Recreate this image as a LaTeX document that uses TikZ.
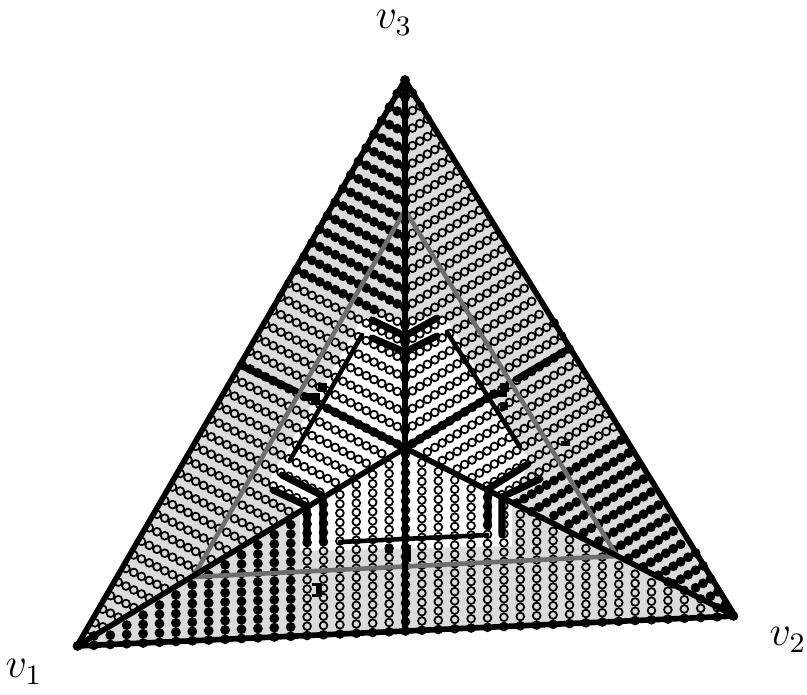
\documentclass[tikz,border=0pt]{standalone}
\begin{document}
\begin{tikzpicture}[x=0.01cm,y=-0.01cm,
  edge/.style={line width=1.6pt, line join=round},
  guide/.style={line width=1.3pt, black!57},
  inner/.style={line width=1.3pt, line cap=round},
  chev/.style={line width=2pt, line cap=round, line join=round},
  hole/.style={line width=0.5pt},
  blot/.style={fill=black},
  lbl/.style={inner sep=0pt, font=\large}]
  \useasboundingbox (0,0) rectangle (807,694);
  \coordinate (v1) at (77,646);
  \coordinate (v2) at (735,616);
  \coordinate (v3) at (405,80);
  \coordinate (c) at (405,448);
  \coordinate (b) at (405,631);
  \coordinate (g1) at (193,577);
  \coordinate (g2) at (617,556);
  \coordinate (g3) at (405,210);
  \coordinate (pl) at (240,365);
  \coordinate (pr) at (570,348);

  % shading
  \fill[black!14] (v1) -- (v2) -- (v3) -- cycle;
  \fill[white] (362,318) -- (446,318) -- (530,460) -- (512,502) -- (512,546)
    -- (300,551) -- (300,511) -- (268,482) -- cycle;

  % left face, rows parallel to c--v2
  \foreach \j in {0,...,42}{
    \pgfmathsetmacro\rowy{80+17.52*\j}
    \pgfmathtruncatemacro\ilo{max(0,ceil((\rowy-448)/8.63))}
    \pgfmathtruncatemacro\ihi{floor(0.5795*(\rowy-80)/10.04)}
    \ifnum\ilo>\ihi\else
      \foreach \i in {\ilo,...,\ihi}{
        \pgfmathsetmacro\px{405-7.75*\i}
        \pgfmathsetmacro\py{\rowy-3.95*\i}
        \pgfmathtruncatemacro\isfull{\py<280+0.39*(\px-297)}
        \ifnum\isfull=1 \fill (\px,\py) circle[radius=1.4pt];
        \else \draw[hole] (\px,\py) circle[radius=1.1pt]; \fi
      }
    \fi
  }
  % right face, rows parallel to c--v1
  \foreach \j in {0,...,42}{
    \pgfmathsetmacro\rowy{80+17.52*\j}
    \pgfmathtruncatemacro\ilo{max(1,ceil((\rowy-448)/8.29))}
    \pgfmathtruncatemacro\ihi{floor(0.6157*(\rowy-80)/10.22)}
    \ifnum\ilo>\ihi\else
      \foreach \i in {\ilo,...,\ihi}{
        \pgfmathsetmacro\px{405+7.45*\i}
        \pgfmathsetmacro\py{\rowy-4.5*\i}
        \pgfmathtruncatemacro\isfull{\rowy>565}
        \ifnum\isfull=1 \fill (\px,\py) circle[radius=1.4pt];
        \else \draw[hole] (\px,\py) circle[radius=1.1pt]; \fi
      }
    \fi
  }
  % bottom face, vertical columns
  \foreach \k in {-20,...,20}{
    \pgfmathsetmacro\px{405.5+16.4*\k}
    \pgfmathsetmacro\yb{646-0.04559*(\px-77)}
    \pgfmathsetmacro\yt{\px<405 ? 448+0.6037*(405-\px) : 448+0.509*(\px-405)}
    \pgfmathtruncatemacro\mhi{floor((\yb-\yt)/9.3)}
    \ifnum\mhi<0\else
      \foreach \m in {0,...,\mhi}{
        \pgfmathsetmacro\py{\yb-9.3*\m}
        \pgfmathtruncatemacro\isfull{\px<300}
        \ifnum\isfull=1 \fill (\px,\py) circle[radius=1.4pt];
        \else \draw[hole] (\px,\py) circle[radius=1.1pt]; \fi
      }
    \fi
  }

  % inner grey triangle
  \draw[guide] (g1) -- (g2) -- (g3) -- cycle;

  % simplex and the lines through c
  \draw[edge] (v1) -- (v2) -- (v3) -- cycle;
  \draw[edge] (v3) -- (b);
  \draw[edge] (v1) -- (c) -- (v2);
  \draw[chev] (pl) -- (295,391);
  \draw[chev] (325,407) -- (c);
  \draw[chev] (pr) -- (517,379);
  \draw[chev] (492,395) -- (c);

  % inner segments
  \draw[inner] (290,460) -- (362,335);
  \draw[inner] (447,332) -- (520,447);
  \draw[inner] (340,542) -- (487,535);

  % chevrons
  \draw[chev] (372,320) -- (405,336) -- (437,318);
  \draw[chev] (372,338) -- (405,352) -- (437,336);
  \draw[chev] (282,475) -- (323,496) -- (323,543);
  \draw[chev] (273,490) -- (307,506) -- (307,543);
  \draw[chev] (528,464) -- (488,489) -- (488,527);
  \draw[chev] (540,479) -- (502,497) -- (502,535);

  % small marks
  \fill[blot] (318,383) rectangle (327,392);
  \fill[blot] (302,393) rectangle (320,401);
  \fill[blot] (311,399) rectangle (320,405);
  \fill[blot] (500,383) rectangle (509,392);
  \fill[blot] (490,390) rectangle (507,397);
  \fill[blot] (500,402) rectangle (508,410);
  \fill[blot] (385,545) rectangle (393,553);
  \fill[blot] (402,545) rectangle (411,562);
  \fill[blot] (316,583) rectangle (322,597);
  \fill[blot] (312,583) rectangle (322,586);
  \fill[blot] (312,594) rectangle (322,597);
  \fill[blot] (561,441) rectangle (570,446);

  % labels
  \node[lbl] (lv3) at (394,23) {$v_3$};
  \node[lbl] (lv1) at (24,672) {$v_1$};
  \node[lbl] (lv2) at (788,640) {$v_2$};
\end{tikzpicture}
\end{document}
